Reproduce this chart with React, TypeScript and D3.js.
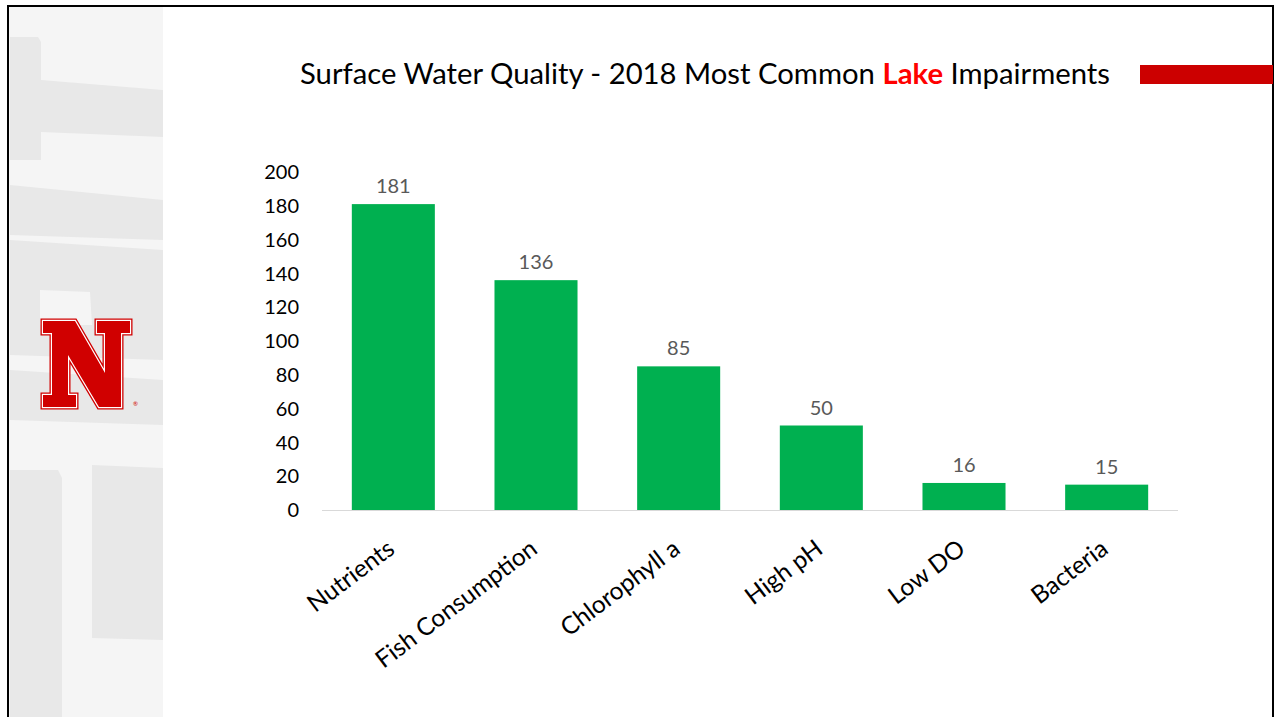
import React from "react";
import * as d3 from "d3";

const categories = ["Nutrients", "Fish Consumption", "Chlorophyll a", "High pH", "Low DO", "Bacteria"];
const values = [181, 136, 85, 50, 16, 15];
const yTicks = [0, 20, 40, 60, 80, 100, 120, 140, 160, 180, 200];
const titleParts = [
  { text: "Surface Water Quality - 2018 Most Common ", red: false },
  { text: "Lake", red: true },
  { text: " Impairments", red: false },
];

const W = 1275;
const H = 717;
const FONT = "Lato, 'Open Sans', sans-serif";

// Nebraska "N" outline in local units (87 x 86)
const nPts: [number, number][] = [
  [0, 0], [32, 0], [62, 52], [62, 12], [54, 12], [54, 0], [87, 0], [87, 12], [78, 12],
  [78, 86], [56, 86], [25, 34], [25, 74], [33, 74], [33, 86], [0, 86], [0, 74], [9, 74], [9, 12], [0, 12],
];

const texture: [number, number][][] = [
  [[10, 37], [38, 37], [41, 42], [41, 160], [10, 160]],
  [[41, 80], [163, 90], [163, 137], [41, 132]],
  [[10, 185], [163, 200], [163, 240], [10, 235]],
  [[10, 240], [163, 250], [163, 360], [10, 355]],
  [[10, 370], [163, 380], [163, 425], [10, 420]],
  [[10, 470], [58, 470], [62, 478], [62, 717], [10, 717]],
  [[92, 465], [163, 468], [163, 640], [92, 638]],
];

export default function App() {
  const x = d3.scaleBand<string>().domain(categories).range([322, 1178]).paddingInner(0.418).paddingOuter(0.209);
  const y = d3.scaleLinear().domain([0, 200]).range([510, 172]);
  const line = d3.line();
  const nPath = line(nPts.map(([a, b]) => [a, b])) + "Z";

  return (
    <svg width={W} height={H} style={{ position: "absolute", left: 0, top: 0, background: "#fff" }}>
      <rect x={0} y={0} width={W} height={H} fill="#fff" />
      {/* left textured panel */}
      <rect x={9} y={7} width={154} height={H - 7} fill="#f5f5f5" />
      {texture.map((p, i) => (
        <path key={i} d={line(p) + "Z"} fill="#e8e8e8" />
      ))}
      <path d="M40,290 L90,292 L92,325 L40,325 Z" fill="#f5f5f5" />
      {/* N logo */}
      <g transform="translate(43,321)">
        <path d={nPath} fill="none" stroke="#d00000" strokeWidth={5} strokeLinejoin="miter" />
        <path d={nPath} fill="none" stroke="#ffffff" strokeWidth={2.4} strokeLinejoin="miter" />
        <path d={nPath} fill="#d00000" />
        <text x={90} y={85} fontSize={6} fill="#d00000" fontFamily={FONT}>®</text>
      </g>
      {/* slide border */}
      <rect x={8} y={6} width={1265} height={H + 10} fill="none" stroke="#000" strokeWidth={2} />
      {/* red accent bar */}
      <rect x={1140} y={65} width={133} height={19} fill="#cc0000" />
      {/* title */}
      <text x={300} y={84} fontSize={29} fontFamily={FONT} fill="#000" textLength={810} lengthAdjust="spacingAndGlyphs">
        {titleParts.map((p, i) => (
          <tspan key={i} fill={p.red ? "#ff0000" : "#000"} fontWeight={p.red ? 700 : 400}>{p.text}</tspan>
        ))}
      </text>
      {/* y tick labels */}
      {yTicks.map((t) => (
        <text key={t} x={299} y={y(t)} dy="0.36em" textAnchor="end" fontSize={20} fontFamily={FONT} fill="#000">
          {t}
        </text>
      ))}
      {/* axis line */}
      <line x1={322} x2={1178} y1={y(0) + 0.5} y2={y(0) + 0.5} stroke="#d9d9d9" strokeWidth={1.2} />
      {/* bars */}
      {categories.map((c, i) => (
        <g key={c}>
          <rect x={x(c)} y={y(values[i])} width={x.bandwidth()} height={y(0) - y(values[i])} fill="#00b050" />
          <text x={(x(c) as number) + x.bandwidth() / 2} y={y(values[i]) - 11} textAnchor="middle" fontSize={20} fontFamily={FONT} fill="#595959">
            {values[i]}
          </text>
          <text
            transform={`translate(${(x(c) as number) + x.bandwidth() / 2 + 3},${552}) rotate(-37)`}
            textAnchor="end"
            fontSize={24.5}
            fontFamily={FONT}
            fill="#000"
          >
            {c}
          </text>
        </g>
      ))}
    </svg>
  );
}
